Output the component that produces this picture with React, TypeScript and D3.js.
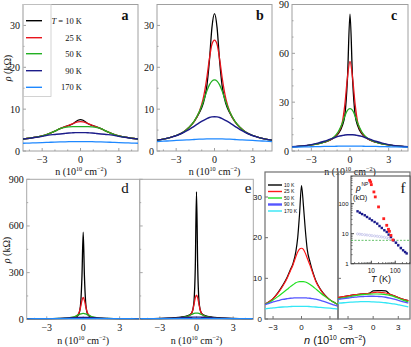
import React from "react";
import * as d3 from "d3";

// ---------- data ----------
const tempLabels = ["10 K", "25 K", "50 K", "90 K", "170 K"];

// panels a, b, c : rho (kOhm) vs n (1e10 cm^-2)
const nTop = [-4.5, -4, -3.5, -3, -2.5, -2, -1.6, -1.2, -0.9, -0.6, -0.4, -0.2, 0, 0.2, 0.4, 0.6, 0.9, 1.2, 1.6, 2, 2.5, 3, 3.5, 4, 4.5];

const a10 = [2.85, 3.05, 3.3, 3.6, 4.1, 4.75, 5.35, 5.8, 6.1, 6.5, 6.95, 7.35, 7.5, 7.35, 6.95, 6.5, 6.1, 5.8, 5.35, 4.75, 4.1, 3.6, 3.3, 3.05, 2.85];
const a25 = [2.85, 3.05, 3.3, 3.6, 4.1, 4.75, 5.35, 5.8, 6.15, 6.55, 6.8, 6.95, 7.0, 6.95, 6.8, 6.55, 6.15, 5.8, 5.35, 4.75, 4.1, 3.6, 3.3, 3.05, 2.85];
const a50 = [2.85, 3.05, 3.3, 3.6, 4.1, 4.75, 5.35, 5.65, 5.75, 5.8, 5.8, 5.8, 5.8, 5.8, 5.8, 5.8, 5.75, 5.65, 5.35, 4.75, 4.1, 3.6, 3.3, 3.05, 2.85];
const a90 = [2.85, 3.02, 3.25, 3.5, 3.8, 3.95, 4.07, 4.2, 4.3, 4.35, 4.38, 4.4, 4.4, 4.4, 4.38, 4.35, 4.3, 4.2, 4.07, 3.95, 3.8, 3.5, 3.25, 3.02, 2.85];
const a170 = [1.85, 1.9, 1.95, 2.0, 2.07, 2.13, 2.17, 2.2, 2.22, 2.24, 2.25, 2.25, 2.25, 2.25, 2.25, 2.24, 2.22, 2.2, 2.17, 2.13, 2.07, 2.0, 1.95, 1.9, 1.85];

const b10 = [2.6, 2.85, 3.2, 3.7, 4.4, 5.6, 7.0, 9.1, 11.2, 15.5, 21.5, 29.5, 32.8, 29.5, 21.5, 15.5, 11.2, 9.1, 7.0, 5.6, 4.4, 3.7, 3.2, 2.85, 2.6];
const b25 = [2.6, 2.85, 3.2, 3.7, 4.4, 5.6, 7.0, 9.3, 12.3, 17.5, 22.0, 25.5, 26.5, 25.5, 22.0, 17.5, 12.3, 9.3, 7.0, 5.6, 4.4, 3.7, 3.2, 2.85, 2.6];
const b50 = [2.6, 2.85, 3.2, 3.7, 4.4, 5.65, 7.1, 9.3, 11.6, 14.3, 15.8, 16.7, 17.0, 16.7, 15.8, 14.3, 11.6, 9.3, 7.1, 5.65, 4.4, 3.7, 3.2, 2.85, 2.6];
const b90 = [2.6, 2.85, 3.2, 3.65, 4.3, 5.1, 5.9, 6.7, 7.25, 7.75, 8.0, 8.15, 8.2, 8.15, 8.0, 7.75, 7.25, 6.7, 5.9, 5.1, 4.3, 3.65, 3.2, 2.85, 2.6];
const b170 = [2.25, 2.35, 2.43, 2.52, 2.6, 2.68, 2.75, 2.82, 2.85, 2.88, 2.9, 2.9, 2.9, 2.9, 2.9, 2.88, 2.85, 2.82, 2.75, 2.68, 2.6, 2.52, 2.43, 2.35, 2.25];

const c10 = [2.6, 2.85, 3.2, 3.7, 4.4, 5.4, 6.5, 8.3, 10.8, 15.5, 22, 44, 84, 44, 22, 15.5, 10.8, 8.3, 6.5, 5.4, 4.4, 3.7, 3.2, 2.85, 2.6];
const c25 = [2.6, 2.85, 3.2, 3.7, 4.4, 5.4, 6.6, 8.6, 11.5, 17.5, 28.5, 45, 55, 45, 28.5, 17.5, 11.5, 8.6, 6.6, 5.4, 4.4, 3.7, 3.2, 2.85, 2.6];
const c50 = [2.6, 2.85, 3.2, 3.7, 4.4, 5.5, 6.8, 9, 12, 17, 21.5, 25, 26, 25, 21.5, 17, 12, 9, 6.8, 5.5, 4.4, 3.7, 3.2, 2.85, 2.6];
const c90 = [2.6, 2.9, 3.3, 3.9, 4.8, 6.0, 7.1, 8.2, 9.0, 9.5, 9.8, 9.95, 10, 9.95, 9.8, 9.5, 9.0, 8.2, 7.1, 6.0, 4.8, 3.9, 3.3, 2.9, 2.6];
const c170 = [2.35, 2.42, 2.5, 2.6, 2.7, 2.8, 2.85, 2.9, 2.95, 2.98, 3.0, 3.0, 3.0, 3.0, 3.0, 2.98, 2.95, 2.9, 2.85, 2.8, 2.7, 2.6, 2.5, 2.42, 2.35];

// panel d (two sub-panels)
const nD = [-4.6, -4, -3.5, -3, -2.5, -2, -1.5, -1.2, -0.9, -0.6, -0.4, -0.3, -0.2, -0.1, 0, 0.1, 0.2, 0.3, 0.4, 0.6, 0.9, 1.2, 1.5, 2, 2.5, 3, 3.5, 4, 4.6];

const dL10 = [2.4, 2.6, 2.8, 3.1, 3.5, 4.2, 5.2, 6.5, 9, 15, 28, 50, 110, 280, 560, 280, 110, 50, 28, 15, 9, 6.5, 5.2, 4.2, 3.5, 3.1, 2.8, 2.6, 2.4];
const dL25 = [2.4, 2.6, 2.9, 3.2, 3.7, 4.5, 6, 7.5, 11, 19, 34, 52, 85, 122, 140, 122, 85, 52, 34, 19, 11, 7.5, 6, 4.5, 3.7, 3.2, 2.9, 2.6, 2.4];
const dL50 = [2.4, 2.65, 2.9, 3.3, 3.9, 5, 7, 9.5, 13.5, 21, 28, 32, 35, 37, 38, 37, 35, 32, 28, 21, 13.5, 9.5, 7, 5, 3.9, 3.3, 2.9, 2.65, 2.4];
const dL90 = [2.4, 2.7, 3.0, 3.6, 4.5, 5.7, 7.3, 8.5, 9.8, 11, 11.6, 11.8, 12, 12, 12, 12, 12, 11.8, 11.6, 11, 9.8, 8.5, 7.3, 5.7, 4.5, 3.6, 3.0, 2.7, 2.4];
const dL170 = [2.35, 2.45, 2.5, 2.6, 2.7, 2.8, 2.85, 2.9, 2.95, 2.98, 3.0, 3.0, 3.0, 3.0, 3.0, 3.0, 3.0, 3.0, 3.0, 2.98, 2.95, 2.9, 2.85, 2.8, 2.7, 2.6, 2.5, 2.45, 2.35];

const dR10 = [2.6, 3.2, 4, 5.2, 7, 9.5, 12.5, 15, 19, 27, 40, 62, 120, 330, 820, 330, 120, 62, 40, 27, 19, 15, 12.5, 9.5, 7, 5.2, 4, 3.2, 2.6];
const dR25 = [2.5, 2.8, 3.2, 3.8, 4.6, 6, 8, 10, 14, 23, 40, 60, 98, 138, 155, 138, 98, 60, 40, 23, 14, 10, 8, 6, 4.6, 3.8, 3.2, 2.8, 2.5];
const dR50 = [2.45, 2.7, 3.0, 3.5, 4.3, 5.6, 8, 10.5, 15, 24, 31, 35, 38, 39.5, 40, 39.5, 38, 35, 31, 24, 15, 10.5, 8, 5.6, 4.3, 3.5, 3.0, 2.7, 2.45];
const dR90 = [2.5, 2.8, 3.2, 3.9, 4.9, 6.4, 8.3, 9.8, 11.3, 12.7, 13.4, 13.7, 13.9, 14, 14, 14, 13.9, 13.7, 13.4, 12.7, 11.3, 9.8, 8.3, 6.4, 4.9, 3.9, 3.2, 2.8, 2.5];
const dR170 = [2.45, 2.55, 2.65, 2.75, 2.85, 2.95, 3.05, 3.1, 3.15, 3.18, 3.2, 3.2, 3.2, 3.2, 3.2, 3.2, 3.2, 3.2, 3.2, 3.18, 3.15, 3.1, 3.05, 2.95, 2.85, 2.75, 2.65, 2.55, 2.45];

// panel e (measured)
const nE = [-3.9, -3.5, -3, -2.5, -2, -1.5, -1.2, -0.9, -0.6, -0.4, -0.2, 0, 0.2, 0.4, 0.6, 0.9, 1.2, 1.5, 2, 2.5, 3, 3.5, 3.9];
const e10 = [3.6, 4.1, 5.0, 6.4, 8.2, 10.3, 12, 13.6, 16.5, 20, 26, 32.8, 28, 22, 17.2, 14, 11.5, 9.5, 7.3, 5.8, 4.7, 4.0, 3.5];
const e25 = [3.6, 4.1, 5.0, 6.3, 8.0, 10.1, 11.7, 13.3, 15.3, 16.5, 17.2, 17.4, 17.1, 16.2, 15, 13.2, 11.2, 9.3, 7.2, 5.7, 4.7, 4.0, 3.5];
const e50 = [3.5, 4.0, 4.7, 5.5, 6.4, 7.3, 7.9, 8.4, 8.9, 9.1, 9.2, 9.2, 9.2, 9.1, 8.9, 8.5, 8.0, 7.4, 6.4, 5.5, 4.7, 4.0, 3.5];
const e90 = [3.5, 3.8, 4.2, 4.5, 4.8, 5.0, 5.1, 5.15, 5.2, 5.2, 5.2, 5.2, 5.2, 5.2, 5.15, 5.1, 5.0, 4.9, 4.6, 4.2, 3.8, 3.4, 3.1];
const e170 = [2.5, 2.6, 2.75, 2.85, 2.95, 3.0, 3.05, 3.1, 3.1, 3.1, 3.1, 3.1, 3.1, 3.1, 3.1, 3.05, 3.0, 2.95, 2.85, 2.75, 2.65, 2.55, 2.45];

// panel f, lower part
const nF = [-4.2, -3.5, -3, -2.5, -2, -1.5, -1, -0.5, 0, 0.5, 1, 1.5, 2, 2.5, 3, 3.5, 4.2];
const f10 = [5.2, 5.5, 5.7, 5.9, 6.0, 6.1, 6.2, 6.3, 6.9, 7.0, 7.0, 6.9, 6.1, 5.7, 5.3, 4.9, 4.5];
const f25 = [5.3, 5.5, 5.7, 5.9, 6.0, 6.1, 6.2, 6.3, 6.5, 6.6, 6.5, 6.4, 6.1, 5.7, 5.3, 4.9, 4.5];
const f50 = [5.0, 5.2, 5.4, 5.6, 5.8, 5.95, 6.05, 6.1, 6.15, 6.15, 6.1, 6.0, 5.8, 5.5, 5.1, 4.7, 4.2];
const f90 = [4.8, 5.0, 5.15, 5.3, 5.4, 5.5, 5.55, 5.6, 5.6, 5.55, 5.5, 5.35, 5.15, 4.9, 4.6, 4.3, 3.9];
const f170 = [3.9, 4.0, 4.1, 4.15, 4.2, 4.25, 4.25, 4.25, 4.2, 4.15, 4.1, 4.0, 3.85, 3.7, 3.5, 3.3, 3.0];

// panel f inset: rho_NP vs T (log-log)
const redT = [8.5, 9.4, 10, 12.8, 14.6, 20, 33, 44, 52, 57, 66, 80];
const redR = [600, 527, 430, 246, 168, 78, 31.6, 19, 14, 12, 8.8, 6.2];
const navyT = [2.65, 3.3, 4.1, 5.3, 6.6, 8.5, 10.6, 13.7, 17.6, 22, 27.4, 35, 44, 53, 66, 85, 107, 133, 171, 213, 258, 300];
const navyR = [55.7, 50, 45, 41, 36, 31.7, 27.9, 24.5, 21.6, 18, 15.5, 13, 11.4, 9.3, 7.8, 6.0, 5.0, 4.1, 3.3, 2.8, 2.45, 2.2];
const lavT = [2.65, 3.3, 4.1, 5.3, 6.6, 8.5, 10.6, 13.7, 17.6, 22, 27.4, 35, 44, 53, 66, 85, 107, 133, 171];
const lavR = [9.8, 9.6, 9.4, 9.2, 9.0, 8.8, 8.6, 8.4, 8.2, 8.0, 7.8, 7.6, 7.3, 7.0, 6.6, 5.9, 5.0, 4.2, 3.5];
const dashedLevel = 6;

// ---------- styling ----------
const serif = "'Liberation Serif','Times New Roman',serif";
const sans = "'Liberation Sans',Arial,sans-serif";
const topColors = ["#000000", "#e8141c", "#22b022", "#1c1c8a", "#1e88ff"];
const expColors = ["#000000", "#ff1a1a", "#22e022", "#5555ff", "#33e6f5"];

type Curve = { v: number[]; c: string; w?: number };

const fmt = (t: number) => (t < 0 ? "\u2212" + -t : String(t));

function Panel(p: {
  id: string; x0: number; x1: number; y0: number; y1: number;
  xDom: number[]; yDom: number[];
  xTicks: number[]; xMinor: number[]; yTicks: number[]; yMinor: number[];
  yLabels: boolean; grid: number[]; curves: Curve[];
  font: string; fs: number; frame: string; xLabY: number; frameW?: number;
}) {
  const x = d3.scaleLinear().domain(p.xDom).range([p.x0, p.x1]);
  const y = d3.scaleLinear().domain(p.yDom).range([p.y1, p.y0]);
  const line = d3.line<number>().x((_, i) => x(p.grid[i])).y((d) => y(d)).curve(d3.curveMonotoneX);
  return (
    <g>
      <defs>
        <clipPath id={p.id}>
          <rect x={p.x0} y={p.y0} width={p.x1 - p.x0} height={p.y1 - p.y0} />
        </clipPath>
      </defs>
      <rect x={p.x0} y={p.y0} width={p.x1 - p.x0} height={p.y1 - p.y0} fill="none" stroke={p.frame} strokeWidth={p.frameW ?? 1} />
      {p.yTicks.map((t) => (
        <line key={"yt" + t} x1={p.x0} x2={p.x0 + 3} y1={y(t)} y2={y(t)} stroke={p.frame} />
      ))}
      {p.yMinor.map((t) => (
        <line key={"ym" + t} x1={p.x0} x2={p.x0 + 1.5} y1={y(t)} y2={y(t)} stroke={p.frame} />
      ))}
      {p.xTicks.map((t) => (
        <line key={"xt" + t} x1={x(t)} x2={x(t)} y1={p.y1} y2={p.y1 - 3} stroke={p.frame} />
      ))}
      {p.xMinor.map((t) => (
        <line key={"xm" + t} x1={x(t)} x2={x(t)} y1={p.y1} y2={p.y1 - 1.5} stroke={p.frame} />
      ))}
      <g clipPath={`url(#${p.id})`}>
        {p.curves.map((c, k) => (
          <path key={k} d={line(c.v) ?? ""} fill="none" stroke={c.c} strokeWidth={c.w ?? 1.3} strokeLinejoin="round" />
        ))}
      </g>
      {p.yLabels &&
        p.yTicks.map((t) => (
          <text key={"yl" + t} x={p.x0 - 3} y={y(t)} dy="0.35em" textAnchor="end" fontFamily={p.font} fontSize={p.fs} fill="#111">
            {t}
          </text>
        ))}
      {p.xTicks.map((t) => (
        <text key={"xl" + t} x={x(t)} y={p.xLabY} textAnchor="middle" fontFamily={p.font} fontSize={p.fs} fill="#111">
          {fmt(t)}
        </text>
      ))}
    </g>
  );
}

function NTitle({ x, y, font, fs, italic }: { x: number; y: number; font: string; fs: number; italic?: boolean }) {
  const up = fs * 0.36;
  return (
    <text x={x} y={y} textAnchor="middle" fontFamily={font} fontSize={fs} fill="#111">
      <tspan fontStyle={italic ? "italic" : "normal"}>n</tspan>
      <tspan> (10</tspan>
      <tspan dy={-up} fontSize={fs * 0.62}>10</tspan>
      <tspan dy={up}> cm</tspan>
      <tspan dy={-up} fontSize={fs * 0.62}>{"\u22122"}</tspan>
      <tspan dy={up}>)</tspan>
    </text>
  );
}

function RhoTitle({ x, y }: { x: number; y: number }) {
  return (
    <text transform={`translate(${x},${y}) rotate(-90)`} textAnchor="middle" fontFamily={serif} fontSize={10} fill="#111">
      <tspan fontStyle="italic">ρ</tspan> (kΩ)
    </text>
  );
}

const mk = (vals: number[][], cols: string[], widths?: number[]): Curve[] =>
  vals.map((v, i) => ({ v, c: cols[i], w: widths ? widths[i] : 1.3 }));

function Inset() {
  const x = d3.scaleLog().domain([1.41, 414]).range([351, 410]);
  const y = d3.scaleLog().domain([1, 835]).range([263.7, 176]);
  const xMinor = [2, 3, 4, 5, 6, 7, 8, 9, 20, 30, 40, 50, 60, 70, 80, 90, 200, 300, 400];
  const yMinor = [2, 3, 4, 5, 6, 7, 8, 9, 20, 30, 40, 50, 60, 70, 80, 90, 200, 300, 400, 500, 600, 700, 800];
  return (
    <g>
      <rect x={351} y={176} width={59} height={87.7} fill="#fff" stroke="#444" strokeWidth={1} />
      {[1, 10, 100].map((t) => (
        <g key={"iy" + t}>
          <line x1={351} x2={354} y1={y(t)} y2={y(t)} stroke="#444" />
          <text x={348.5} y={y(t)} dy="0.35em" textAnchor="end" fontFamily={sans} fontSize={6} fill="#111">{t}</text>
        </g>
      ))}
      {yMinor.map((t) => (
        <line key={"iym" + t} x1={351} x2={352.6} y1={y(t)} y2={y(t)} stroke="#444" strokeWidth={0.7} />
      ))}
      {[10, 100].map((t) => (
        <g key={"ix" + t}>
          <line x1={x(t)} x2={x(t)} y1={263.7} y2={260.7} stroke="#444" />
          <text x={x(t)} y={272.5} textAnchor="middle" fontFamily={sans} fontSize={6.5} fill="#111">{t}</text>
        </g>
      ))}
      {xMinor.map((t) => (
        <line key={"ixm" + t} x1={x(t)} x2={x(t)} y1={263.7} y2={262} stroke="#444" strokeWidth={0.7} />
      ))}
      <line x1={351} x2={410} y1={y(dashedLevel)} y2={y(dashedLevel)} stroke="#3cb043" strokeWidth={0.8} strokeDasharray="2,1.5" />
      {lavT.map((t, i) => (
        <circle key={"lv" + i} cx={x(t)} cy={y(lavR[i])} r={1.1} fill="none" stroke="#b4b4e4" strokeWidth={0.6} />
      ))}
      {navyT.map((t, i) => (
        <rect key={"nv" + i} x={x(t) - 1.2} y={y(navyR[i]) - 1.2} width={2.4} height={2.4} fill="#1a1a8c" />
      ))}
      {redT.map((t, i) => (
        <rect key={"rd" + i} x={x(t) - 1.4} y={y(redR[i]) - 1.4} width={2.8} height={2.8} fill="#ff2020" />
      ))}
      <text x={356} y={191} fontFamily={serif} fontSize={10} fontStyle="italic" fill="#111">ρ</text>
      <text x={361.5} y={186} fontFamily={sans} fontSize={5} fill="#111">NP</text>
      <text x={353} y={200} fontFamily={sans} fontSize={7.5} fill="#111">(kΩ)</text>
      <text x={381} y={282} textAnchor="middle" fontFamily={sans} fontSize={9} fill="#111">
        <tspan fontStyle="italic">T</tspan> (K)
      </text>
      <text x={403} y={193} textAnchor="middle" fontFamily={serif} fontSize={15} fill="#111">f</text>
    </g>
  );
}

export default function App() {
  const topW = [1.3, 1.3, 1.3, 1.4, 1.3];
  const legendRowsA = [20.7, 37.7, 53.7, 70.7, 87.3];
  const legendRowsE = [185, 191.5, 198, 204.5, 211];
  const topCommon = {
    y0: 4.5, y1: 151, xDom: [-4.5, 4.5], xTicks: [-3, 0, 3], xMinor: [-4, -2, -1, 1, 2, 4],
    yLabels: true, grid: nTop, font: serif, fs: 10, frame: "#a0a0a0", xLabY: 162.5,
  };
  const dCommon = {
    y0: 179.3, y1: 319.3, xDom: [-4.65, 4.65], yDom: [0, 900], xTicks: [-3, 0, 3], xMinor: [-4, -2, -1, 1, 2, 4],
    yTicks: [0, 300, 600, 900], yMinor: [150, 450, 750], grid: nD, font: serif, fs: 10, frame: "#a8a8a8", xLabY: 331,
  };
  return (
    <svg width={411} height={347} viewBox="0 0 411 347" style={{ position: "absolute", left: 0, top: 0, background: "#fff" }}>
      <rect x={0} y={0} width={411} height={347} fill="#fff" />

      {/* panel a */}
      <Panel id="ca" x0={23} x1={138} {...topCommon} yDom={[0, 35]} yTicks={[0, 10, 20, 30]} yMinor={[5, 15, 25]}
        curves={mk([a10, a25, a50, a90, a170], topColors, topW)} />
      <rect x={23} y={4.5} width={28} height={92} fill="none" stroke="#c8c8c8" strokeWidth={0.8} />
      {legendRowsA.map((ly, i) => (
        <g key={"la" + i}>
          <line x1={26} x2={42} y1={ly} y2={ly} stroke={topColors[i]} strokeWidth={1.4} />
          <text x={82} y={ly} dy="0.35em" textAnchor="end" fontFamily={serif} fontSize={8.5} fill="#111">
            {i === 0 ? (
              <>
                <tspan fontStyle="italic">T</tspan> = {tempLabels[i]}
              </>
            ) : (
              tempLabels[i]
            )}
          </text>
        </g>
      ))}
      <text x={125} y={19.5} textAnchor="middle" fontFamily={serif} fontSize={14} fontWeight="bold" fill="#111">a</text>
      <RhoTitle x={11} y={68} />
      <NTitle x={81} y={174.5} font={serif} fs={10} />

      {/* panel b */}
      <Panel id="cb" x0={157} x1={272} {...topCommon} yDom={[0, 35]} yTicks={[0, 10, 20, 30]} yMinor={[5, 15, 25]}
        curves={mk([b10, b25, b50, b90, b170], topColors, topW)} />
      <text x={260} y={19.5} textAnchor="middle" fontFamily={serif} fontSize={14} fontWeight="bold" fill="#111">b</text>
      <NTitle x={214.5} y={174.5} font={serif} fs={10} />

      {/* panel c */}
      <Panel id="cc" x0={292} x1={408} {...topCommon} yDom={[0, 90]} yTicks={[0, 30, 60, 90]} yMinor={[10, 20, 40, 50, 70, 80]}
        curves={mk([c10, c25, c50, c90, c170], topColors, topW)} />
      <text x={394} y={19.5} textAnchor="middle" fontFamily={serif} fontSize={14} fontWeight="bold" fill="#111">c</text>
      <NTitle x={350} y={174.5} font={serif} fs={10} />

      {/* panel d */}
      <Panel id="cdl" x0={26.7} x1={139.7} {...dCommon} yLabels={true}
        curves={mk([dL10, dL25, dL50, dL90, dL170], topColors, [1.3, 1.3, 1.3, 1.4, 1.6])} />
      <Panel id="cdr" x0={139.7} x1={253.3} {...dCommon} yLabels={false}
        curves={mk([dR10, dR25, dR50, dR90, dR170], topColors, [1.3, 1.3, 1.3, 1.4, 1.6])} />
      <text x={125} y={192.5} textAnchor="middle" fontFamily={serif} fontSize={15} fill="#111">d</text>
      <RhoTitle x={10} y={250} />
      <NTitle x={83.2} y={343.5} font={serif} fs={10} />
      <NTitle x={196.5} y={343.5} font={serif} fs={10} />

      {/* panel e */}
      <Panel id="ce" x0={265} x1={338} y0={172} y1={319} xDom={[-3.85, 3.85]} yDom={[0, 36.15]}
        xTicks={[-3, 0, 3]} xMinor={[]} yTicks={[0, 10, 20, 30]} yMinor={[]} yLabels={true}
        grid={nE} curves={mk([e10, e25, e50, e90, e170], expColors, [1.2, 1.2, 1.2, 1.3, 1.3])}
        font={sans} fs={8} frame="#707070" frameW={1.2} xLabY={329.5} />
      <text x={248} y={192.5} textAnchor="middle" fontFamily={serif} fontSize={15} fill="#111">e</text>
      {legendRowsE.map((ly, i) => (
        <g key={"le" + i}>
          <line x1={268} x2={282} y1={ly} y2={ly} stroke={expColors[i]} strokeWidth={i === 3 ? 2.4 : 1.4} />
          <text x={284} y={ly} dy="0.35em" fontFamily={sans} fontSize={5} fill="#111">{tempLabels[i]}</text>
        </g>
      ))}

      {/* panel f (lower curves + inset) */}
      <Panel id="cf" x0={338} x1={410} y0={172} y1={319} xDom={[-4.2, 4.4]} yDom={[0, 36.15]}
        xTicks={[-3, 0, 3]} xMinor={[]} yTicks={[5, 10]} yMinor={[]} yLabels={false}
        grid={nF} curves={mk([f10, f25, f50, f90, f170], expColors, [1.2, 1.2, 1.2, 1.3, 1.3])}
        font={sans} fs={8} frame="#707070" frameW={1.2} xLabY={329.5} />
      <Inset />
      <NTitle x={335} y={344} font={sans} fs={11} italic />
    </svg>
  );
}
